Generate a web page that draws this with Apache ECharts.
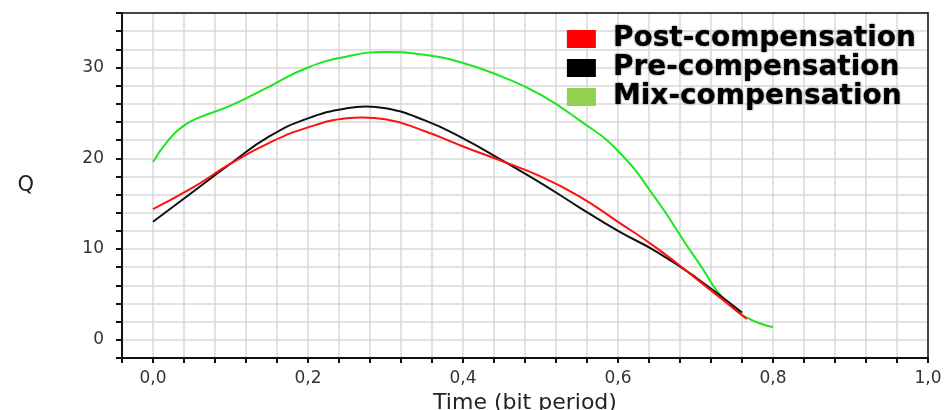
<!DOCTYPE html>
<html>
<head>
<meta charset="utf-8">
<script src="https://cdn.jsdelivr.net/npm/echarts@6/dist/echarts.min.js"></script>
<style>
	html, body { margin: 0; padding: 0; background: #fff; }
	#chart { width: 946px; height: 410px; }
</style>
</head>
<body>
<div id="chart"></div>
<script>
"use strict";

// values
var postTime = [0, 0.05, 0.1, 0.15, 0.2, 0.25, 0.27, 0.3, 0.35, 0.4, 0.45, 0.5, 0.55, 0.6, 0.65, 0.7, 0.766];
var postQ    = [14.4, 16.7, 19.4, 21.7, 23.4, 24.4, 24.5, 24.3, 23.0, 21.3, 19.7, 18.0, 15.8, 13.0, 10.1, 6.8, 2.3];

var preTime = [0, 0.05, 0.1, 0.15, 0.2, 0.25, 0.275, 0.3, 0.35, 0.4, 0.45, 0.5, 0.55, 0.6, 0.65, 0.7, 0.76];
var preQ    = [13.0, 16.2, 19.4, 22.4, 24.4, 25.5, 25.7, 25.5, 24.2, 22.2, 19.8, 17.3, 14.6, 12.0, 9.7, 6.9, 3.0];

var mixTime = [0, 0.02, 0.04, 0.06, 0.1, 0.15, 0.2, 0.25, 0.3, 0.35, 0.4, 0.45, 0.5, 0.55, 0.6, 0.65, 0.7, 0.75, 0.8];
var mixQ    = [19.6, 22.0, 23.6, 24.5, 25.8, 27.9, 30.0, 31.2, 31.7, 31.4, 30.5, 29.0, 27.0, 24.2, 20.8, 15.4, 9.0, 3.4, 1.4];

var seriesNames = ['Post-compensation', 'Pre-compensation', 'Mix-compensation'];
var xTickLabels = ['0,0', '0,2', '0,4', '0,6', '0,8', '1,0'];
var yTickLabels = ['0', '10', '20', '30'];

function pairs(xs, ys) {
	var out = [];
	for (var i = 0; i < xs.length; i++) {
		out.push([xs[i], ys[i]]);
	}
	return out;
}

var chart = echarts.init(document.getElementById('chart'));

var GRID_COLOR = '#d9d9d9';
var LABEL_FONT = 'DejaVu Sans';
var X_MIN = -0.04, X_MAX = 1.0, Y_MIN = -2, Y_MAX = 36;

// plain frame axes for the top and right edges of the box
function frameAxis(pos) {
	return {
		type: 'value',
		position: pos,
		min: pos === 'top' ? X_MIN : Y_MIN,
		max: pos === 'top' ? X_MAX : Y_MAX,
		axisLine: { show: true, onZero: false, lineStyle: { color: '#111', width: 1.5 } },
		axisTick: { show: false },
		axisLabel: { show: false },
		splitLine: { show: false }
	};
}

chart.setOption({
	animation: false,
	grid: {
		left: 122,
		right: 18,
		top: 13,
		bottom: 52,
		outerBoundsMode: 'none',
		containLabel: false
	},
	legend: {
		orient: 'vertical',
		right: 25,
		top: 20,
		itemWidth: 29,
		itemHeight: 18,
		itemGap: 1,
		icon: 'rect',
		textStyle: {
			fontFamily: LABEL_FONT,
			fontWeight: 'bold',
			fontSize: 28,
			lineHeight: 20,
			padding: [0, 0, 0, 12],
			color: '#000',
			textShadowColor: 'rgba(0,0,0,0.7)',
			textShadowBlur: 2
		},
		data: [
			{ name: seriesNames[0], itemStyle: { color: '#ff0000' } },
			{ name: seriesNames[1], itemStyle: { color: '#000000' } },
			{ name: seriesNames[2], itemStyle: { color: '#92d050' } }
		]
	},
	xAxis: [{
		type: 'value',
		min: X_MIN,
		max: X_MAX,
		interval: 0.04,
		name: 'Time (bit period)',
		nameLocation: 'middle',
		nameGap: 32,
		nameTextStyle: { fontFamily: LABEL_FONT, fontSize: 22, color: '#222' },
		axisLine: { show: true, onZero: false, lineStyle: { color: '#111', width: 2 } },
		axisTick: { show: true, length: 5, lineStyle: { color: '#111', width: 2 } },
		axisLabel: {
			margin: 12,
			fontFamily: LABEL_FONT,
			fontSize: 17,
			color: '#333',
			showMinLabel: true,
			showMaxLabel: true,
			formatter: function(v) {
				var k = Math.round(v * 100);
				if (k < 0 || k % 20 !== 0) return '';
				return xTickLabels[k / 20];
			}
		},
		splitLine: { show: true, lineStyle: { color: GRID_COLOR, width: 1.5 } }
	}, frameAxis('top')],
	yAxis: [{
		type: 'value',
		min: Y_MIN,
		max: Y_MAX,
		interval: 2,
		name: 'Q',
		nameLocation: 'middle',
		nameRotate: 0,
		nameGap: 88,
		nameTextStyle: { fontFamily: LABEL_FONT, fontSize: 21, color: '#222', padding: [18, 0, 0, 0] },
		axisLine: { show: true, onZero: false, lineStyle: { color: '#111', width: 2 } },
		axisTick: { show: true, length: 6, lineStyle: { color: '#111', width: 2 } },
		axisLabel: {
			margin: 18,
			fontFamily: LABEL_FONT,
			fontSize: 17,
			color: '#333',
			formatter: function(v) {
				var k = Math.round(v);
				if (k < 0 || k % 10 !== 0) return '';
				return yTickLabels[k / 10] || '';
			}
		},
		splitLine: { show: true, lineStyle: { color: GRID_COLOR, width: 1.5 } }
	}, frameAxis('right')],
	series: [{
		name: seriesNames[0],
		type: 'line',
		smooth: true,
		showSymbol: false,
		z: 3,
		lineStyle: { color: '#ff1010', width: 2 },
		itemStyle: { color: '#ff0000' },
		data: pairs(postTime, postQ)
	}, {
		name: seriesNames[1],
		type: 'line',
		smooth: true,
		showSymbol: false,
		z: 2,
		lineStyle: { color: '#111', width: 2 },
		itemStyle: { color: '#000' },
		data: pairs(preTime, preQ)
	}, {
		name: seriesNames[2],
		type: 'line',
		smooth: true,
		showSymbol: false,
		z: 1,
		lineStyle: { color: '#1ee61e', width: 2 },
		itemStyle: { color: '#92d050' },
		data: pairs(mixTime, mixQ)
	}]
});
</script>
</body>
</html>
